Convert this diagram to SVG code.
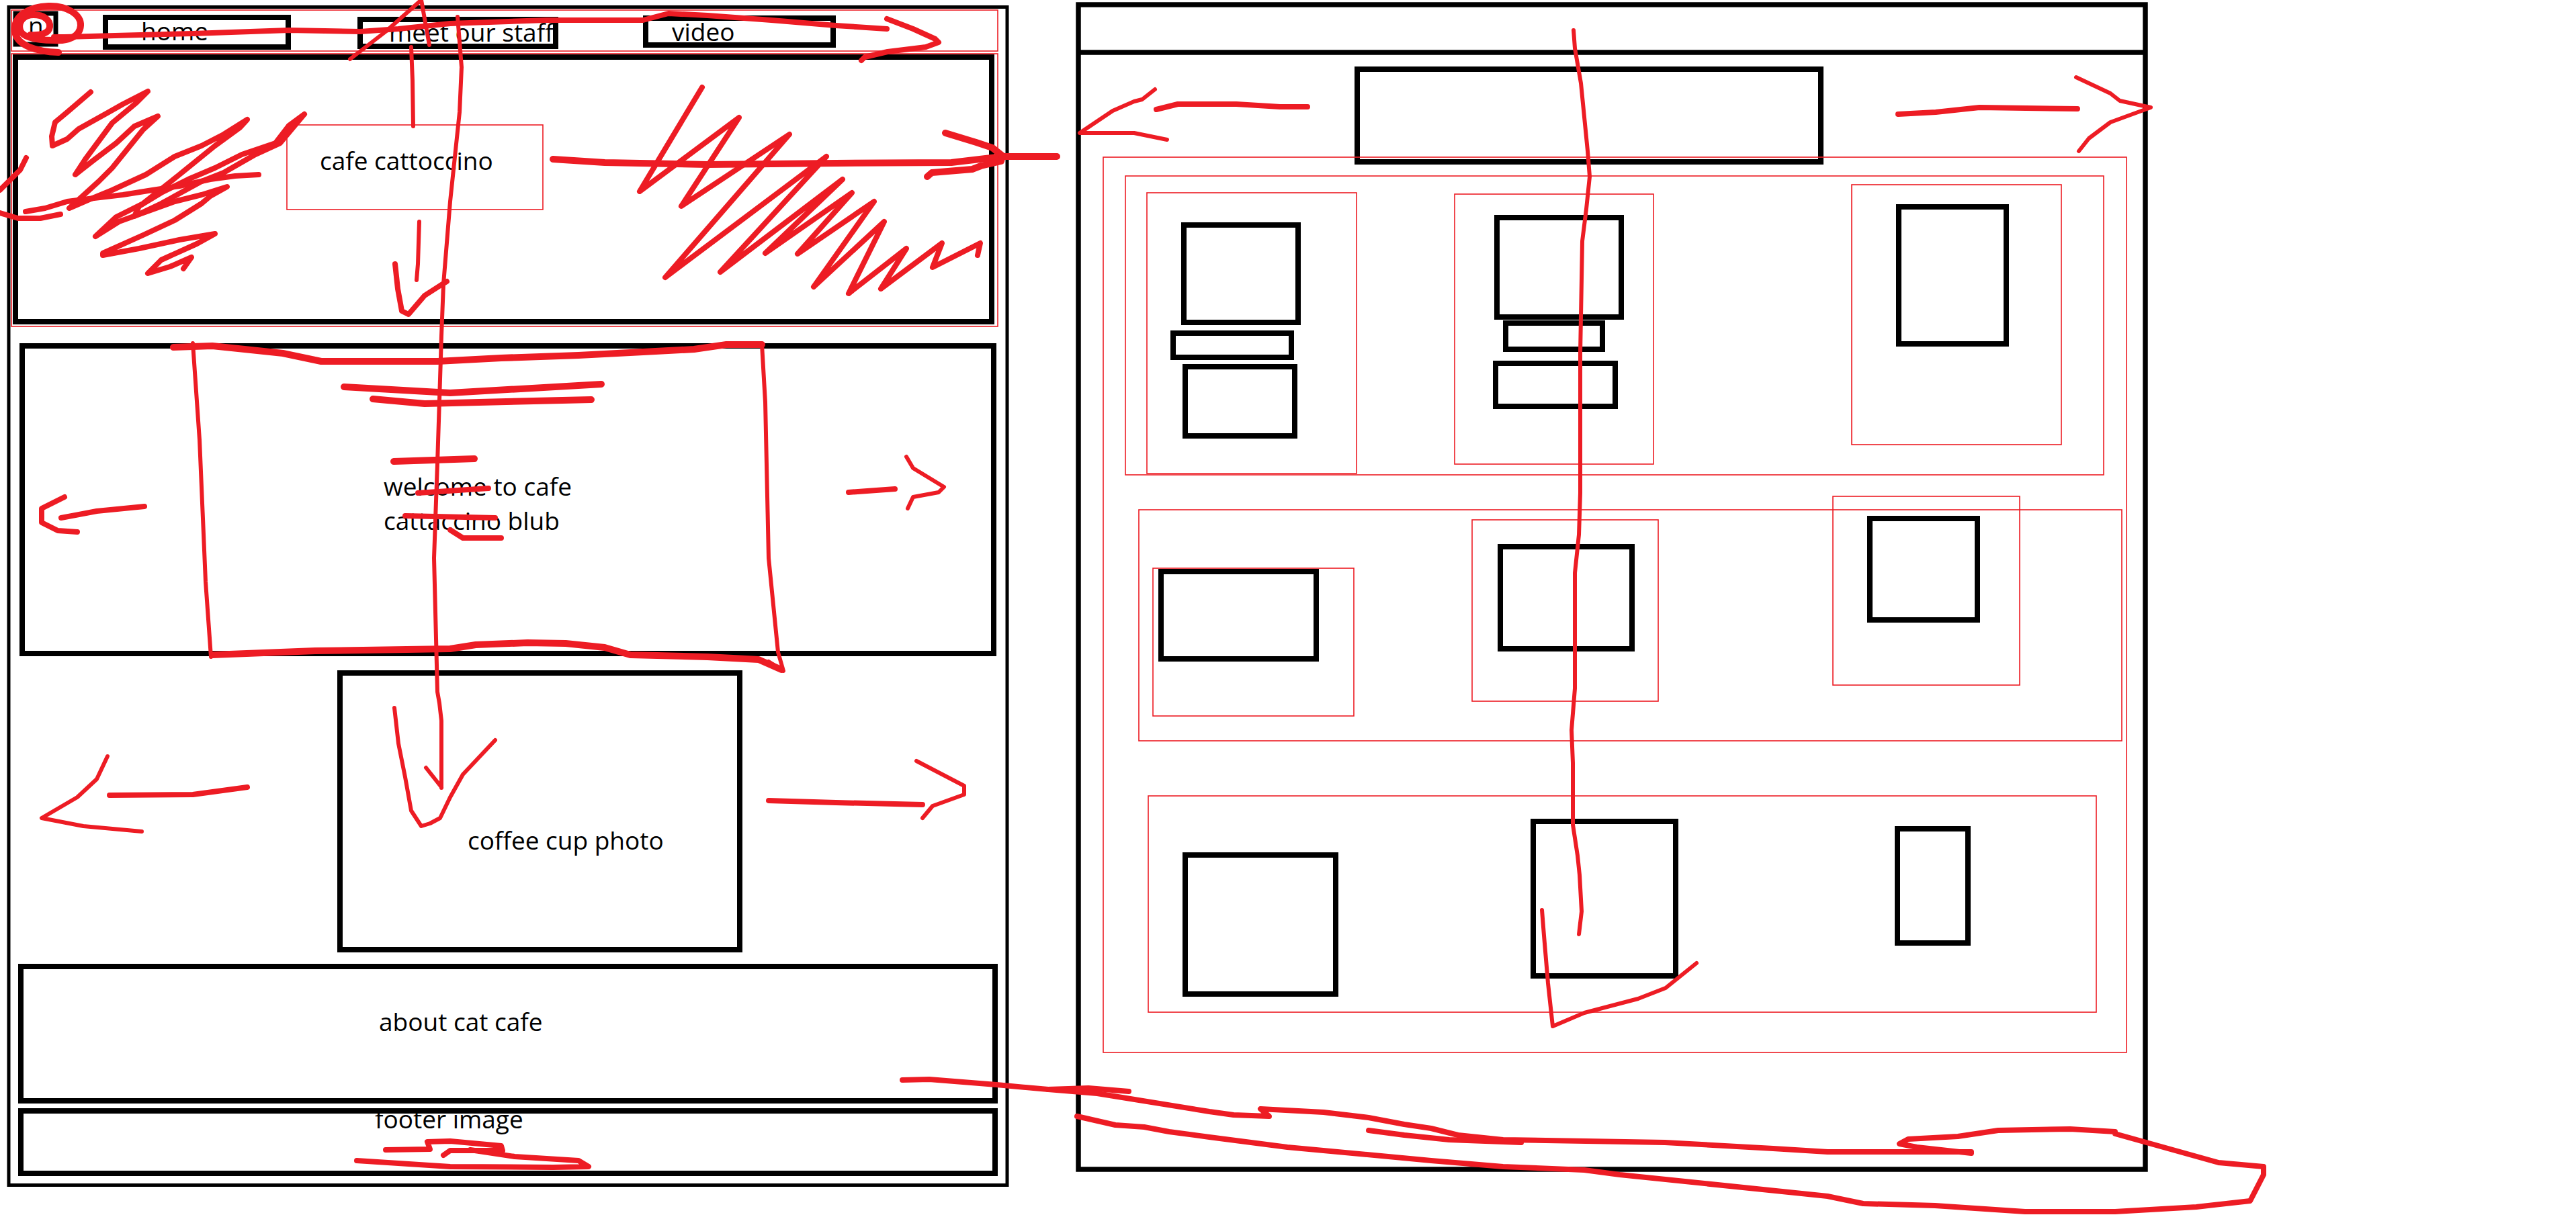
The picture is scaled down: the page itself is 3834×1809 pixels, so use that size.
<svg xmlns="http://www.w3.org/2000/svg" width="3834" height="1809" viewBox="0 0 3834 1809">
<style>
.bg{fill:#fff}
.box{fill:none;stroke:#000;stroke-width:8}
.frame{fill:none;stroke:#000;stroke-width:5}
.pframe{fill:none;stroke:#000;stroke-width:7.5}
.guide{fill:none;stroke:#ed1c24;stroke-width:1.6}
.ink{fill:none;stroke:#ed1c24;stroke-linecap:round;stroke-linejoin:round}
.t1{stroke-width:6}
.t2{stroke-width:8}
.t3{stroke-width:10}
.lbl{font-family:"Open Sans","Noto Sans","Liberation Sans",sans-serif;font-size:37px;fill:#000}
</style>
<rect class="bg" x="0" y="0" width="3834" height="1809"/>

<g id="mobile-layout">
  <rect class="frame" x="13" y="10.5" width="1486" height="1754"/>
  <g id="nav-bar">
    <rect class="guide" x="17" y="15" width="1468" height="61"/>
    <g id="nav-logo"><rect class="box" x="23" y="20" width="60" height="46" style="stroke-width:7"/><text class="lbl" x="42" y="52">n</text></g>
    <g id="nav-home"><rect class="box" x="157" y="26" width="272" height="44"/><text class="lbl" x="210" y="60">home</text></g>
    <g id="nav-staff"><rect class="box" x="536" y="29" width="291" height="40"/><text class="lbl" x="579" y="62">meet our staff</text></g>
    <g id="nav-video"><rect class="box" x="961" y="27" width="279" height="40"/><text class="lbl" x="1000" y="61">video</text></g>
  </g>
  <g id="hero">
    <rect class="guide" x="17" y="80" width="1468" height="406"/>
    <rect class="box" x="23" y="85" width="1453" height="394"/>
    <rect class="guide" x="427" y="186" width="381" height="126"/>
    <text class="lbl" x="476" y="253">cafe cattoccino</text>
  </g>
  <g id="welcome">
    <rect class="box" x="33" y="515" width="1446" height="458"/>
    <text class="lbl" x="571" y="738">welcome to cafe</text>
    <text class="lbl" x="571" y="789">cattaccino blub</text>
  </g>
  <g id="coffee-photo">
    <rect class="box" x="506" y="1002" width="595" height="412"/>
    <text class="lbl" x="696" y="1265">coffee cup photo</text>
  </g>
  <g id="about">
    <rect class="box" x="31" y="1439" width="1450" height="200"/>
    <text class="lbl" x="564" y="1535">about cat cafe</text>
  </g>
  <g id="footer">
    <text class="lbl" x="558" y="1680">footer image</text>
    <rect class="box" x="31" y="1654" width="1450" height="93"/>
  </g>
</g>

<g id="desktop-layout">
  <rect class="pframe" x="1605" y="7" width="1588" height="1734"/>
  <line class="pframe" x1="1605" y1="78" x2="3193" y2="78"/>
  <g id="d-logo"><rect class="box" x="2020" y="103" width="690" height="138"/></g>
  <rect class="guide" x="1642" y="234" width="1523" height="1333"/>
  <g id="row1">
    <rect class="guide" x="1675" y="262" width="1456" height="445"/>
    <g id="r1c1">
      <rect class="guide" x="1707" y="287" width="312" height="418"/>
      <rect class="box" x="1762" y="335" width="170" height="145"/>
      <rect class="box" x="1746" y="496" width="176" height="36"/>
      <rect class="box" x="1764" y="546" width="163" height="103"/>
    </g>
    <g id="r1c2">
      <rect class="guide" x="2165" y="289" width="296" height="402"/>
      <rect class="box" x="2228" y="324" width="185" height="148"/>
      <rect class="box" x="2241" y="481" width="144" height="39"/>
      <rect class="box" x="2226" y="541" width="178" height="64"/>
    </g>
    <g id="r1c3">
      <rect class="guide" x="2756" y="275" width="312" height="387"/>
      <rect class="box" x="2826" y="308" width="160" height="204"/>
    </g>
  </g>
  <g id="row2">
    <rect class="guide" x="1695" y="759" width="1463" height="344"/>
    <g id="r2c1"><rect class="guide" x="1716" y="846" width="299" height="220"/><rect class="box" x="1728" y="851" width="231" height="130"/></g>
    <g id="r2c2"><rect class="guide" x="2191" y="774" width="277" height="270"/><rect class="box" x="2233" y="814" width="196" height="152"/></g>
    <g id="r2c3"><rect class="guide" x="2728" y="739" width="278" height="281"/><rect class="box" x="2783" y="772" width="160" height="151"/></g>
  </g>
  <g id="row3">
    <rect class="guide" x="1709" y="1185" width="1411" height="322"/>
    <g id="r3c1"><rect class="box" x="1764" y="1273" width="224" height="207"/></g>
    <g id="r3c2"><rect class="box" x="2282" y="1223" width="212" height="230"/></g>
    <g id="r3c3"><rect class="box" x="2824" y="1234" width="105" height="170"/></g>
  </g>
</g>

<g id="connectors">
  <!-- nav circle and arrow -->
  <path class="ink t3" d="M87,78 C55,77 24,68 22,46 C20,22 45,10 72,9 C100,8 121,22 120,38 C119,55 100,62 80,60 C60,60 35,58 30,45 C26,32 36,22 50,22 C65,22 75,30 74,40 C73,50 60,53 45,52"/>
  <path class="ink t2" d="M80,55 L96,55 L287,50 L430,45 L536,47 L593,43 L670,35 L813,30 L957,30 L995,20 L1053,23 L1148,30 L1244,38 L1320,43"/>
  <path class="ink t2" d="M1320,28 L1359,43 L1392,58 L1397,63 L1378,70 L1321,77 L1287,85 L1282,90"/>
  <!-- vertical strokes on mobile -->
  <path class="ink t1" d="M521,88 L574,47 L627,0 L639,67"/>
  <path class="ink t1" d="M612,70 L614,120 L615,188"/>
  <path class="ink t1" d="M624,330 L622,393 L620,417"/>
  <path class="ink t2" d="M588,393 L592,430 L598,463 L608,468 L632,440 L660,422 L665,419"/>
  <path class="ink t1" d="M681,25 L687,100 L684,167 L670,300 L660,423 L657,500 L656,533 L651,690 L646,831 L651,1030 L654,1047 L657,1073 L657,1173"/>
  <path class="ink t1" d="M587,1054 L593,1107 L603,1157 L612,1207 L627,1230 L640,1226 L655,1218 L670,1187 L689,1153 L737,1102"/>
  <path class="ink t1" d="M634,1143 L657,1172"/>
  <!-- hero scribbles -->
  <path class="ink t2" d="M135,137 L100,167 L82,182 L77,203 L78,217 L100,207 L117,192 L160,168 L183,155 L220,136 L203,153 L167,183 L127,237 L112,260 L140,238 L173,213 L200,188 L235,173 L213,193 L167,250 L147,270 L103,310 L133,297 L167,283 L217,260 L260,233 L300,217 L333,200 L368,178 L357,190 L320,217 L267,260 L213,303 L173,323 L142,352 L177,330 L213,317 L260,300 L300,290 L338,278 L313,292 L300,303 L260,328 L213,350 L153,377 L153,380 L207,370 L267,357 L320,348 L293,363 L240,387 L220,407 L253,397 L285,383 L273,400"/>
  <path class="ink t2" d="M38,315 L67,310 L100,300 L140,295 L183,290 L227,283 L267,277 L313,267 L350,262 L385,260"/>
  <path class="ink t2" d="M453,170 L430,187 L410,213 L360,230 L320,250 L280,267 L240,287 L207,307 L200,322 L240,303 L300,270 L333,257 L380,230 L417,213 L453,170"/>
  <path class="ink t2" d="M39,235 L30,253 L13,270 L0,283"/>
  <path class="ink t2" d="M0,317 L27,325 L60,325 L90,319"/>
  <path class="ink t2" d="M1045,130 L952,285 L1100,175 L1014,307 L1175,200 L990,413 L1230,233 L1072,405 L1254,267 L1139,377 L1268,287 L1187,378 L1301,300 L1211,427 L1316,330 L1263,437 L1349,370 L1311,430 L1402,362 L1388,398 L1459,362 L1455,380"/>
  <path class="ink t3" d="M823,237 L900,242 L1053,245 L1244,243 L1416,242 L1492,233 L1573,233"/>
  <path class="ink t3" d="M1407,198 L1453,212 L1477,220 L1492,232 L1490,240 L1460,247 L1447,252 L1387,257 L1380,263"/>
  <!-- welcome section -->
  <path class="ink t3" d="M258,517 L316,515 L364,520 L421,526 L478,538 L651,538 L746,533 L861,529 L957,524 L1033,520 L1081,513 L1134,513"/>
  <path class="ink t1" d="M1134,513 L1139,599 L1144,831 L1158,971 L1166,999 L1144,985"/>
  <path class="ink t1" d="M287,511 L297,655 L306,866 L314,978"/>
  <path class="ink t3" d="M316,975 L469,969 L670,966 L708,960 L785,957 L842,958 L900,964 L938,975 L1053,978 L1129,982 L1163,997"/>
  <path class="ink t3" d="M512,576 L670,585 L895,572"/>
  <path class="ink t3" d="M555,594 L632,601 L880,595"/>
  <path class="ink t3" d="M586,687 L706,683"/>
  <path class="ink t2" d="M622,734 L727,727"/>
  <path class="ink t2" d="M603,768 L737,771"/>
  <path class="ink t2" d="M670,789 L689,801 L746,801"/>
  <path class="ink t2" d="M96,740 L62,757 L62,778 L86,790 L115,792"/>
  <path class="ink t2" d="M91,771 L144,761 L215,754"/>
  <path class="ink t2" d="M1263,733 L1332,728"/>
  <path class="ink t1" d="M1349,680 L1359,697 L1405,725 L1397,733 L1359,740 L1351,757"/>
  <!-- coffee section arrows -->
  <path class="ink t1" d="M160,1126 L144,1160 L115,1187 L62,1218 L124,1230 L211,1238"/>
  <path class="ink t2" d="M163,1184 L287,1183 L368,1172"/>
  <path class="ink t2" d="M1144,1192 L1244,1195 L1373,1198"/>
  <path class="ink t1" d="M1364,1133 L1435,1170 L1435,1183 L1388,1200 L1373,1218"/>
  <!-- footer scribble -->
  <path class="ink t2" d="M574,1712 L640,1711 L636,1700 L670,1699 L746,1706 L748,1713 L670,1713 L660,1720"/>
  <path class="ink t2" d="M700,1712 L766,1722 L861,1728 L876,1737 L823,1738 L670,1737 L531,1728"/>
  <!-- long bottom strokes -->
  <path class="ink t2" d="M1343,1608 L1383,1607 L1483,1615 L1560,1622 L1620,1620 L1680,1625"/>
  <path class="ink t2" d="M1560,1622 L1633,1628 L1800,1655 L1836,1660 L1889,1662 L1876,1651 L1970,1656 L2037,1664 L2090,1674 L2130,1680 L2170,1690 L2237,1697 L2478,1701 L2639,1710 L2720,1715 L2934,1715"/>
  <path class="ink t2" d="M2037,1683 L2090,1690 L2157,1697 L2264,1701"/>
  <path class="ink t2" d="M1603,1662 L1660,1675 L1703,1678 L1740,1685 L1800,1693 L1916,1708 L2130,1728 L2237,1737 L2358,1742 L2411,1749 L2720,1781 L2773,1792 L2880,1795 L3014,1804 L3148,1804 L3269,1797 L3349,1788 L3369,1749 L3369,1737 L3302,1731 L3148,1688 L3148,1685 L3081,1681 L2974,1683 L2914,1692 L2840,1696 L2827,1703 L2853,1708 L2934,1717"/>
  <!-- desktop strokes -->
  <path class="ink t1" d="M2342,45 L2344,72 L2353,124 L2363,225 L2366,263 L2361,311 L2355,359 L2352,526 L2352,734 L2350,796 L2344,853 L2344,1025 L2339,1087 L2341,1136 L2341,1228 L2348,1274 L2351,1303 L2354,1357 L2350,1391"/>
  <path class="ink t1" d="M2295,1355 L2298,1393 L2304,1464 L2311,1528 L2358,1508 L2438,1487 L2479,1471 L2525,1434"/>
  <path class="ink t2" d="M1721,163 L1753,155 L1840,155 L1905,159 L1946,159"/>
  <path class="ink t1" d="M1719,133 L1700,148 L1688,151 L1656,165 L1607,198 L1688,198 L1737,208"/>
  <path class="ink t2" d="M2825,170 L2881,167 L2946,160 L3092,162"/>
  <path class="ink t1" d="M3090,115 L3141,139 L3155,150 L3201,160 L3141,182 L3109,206 L3094,225"/>
</g>
</svg>
